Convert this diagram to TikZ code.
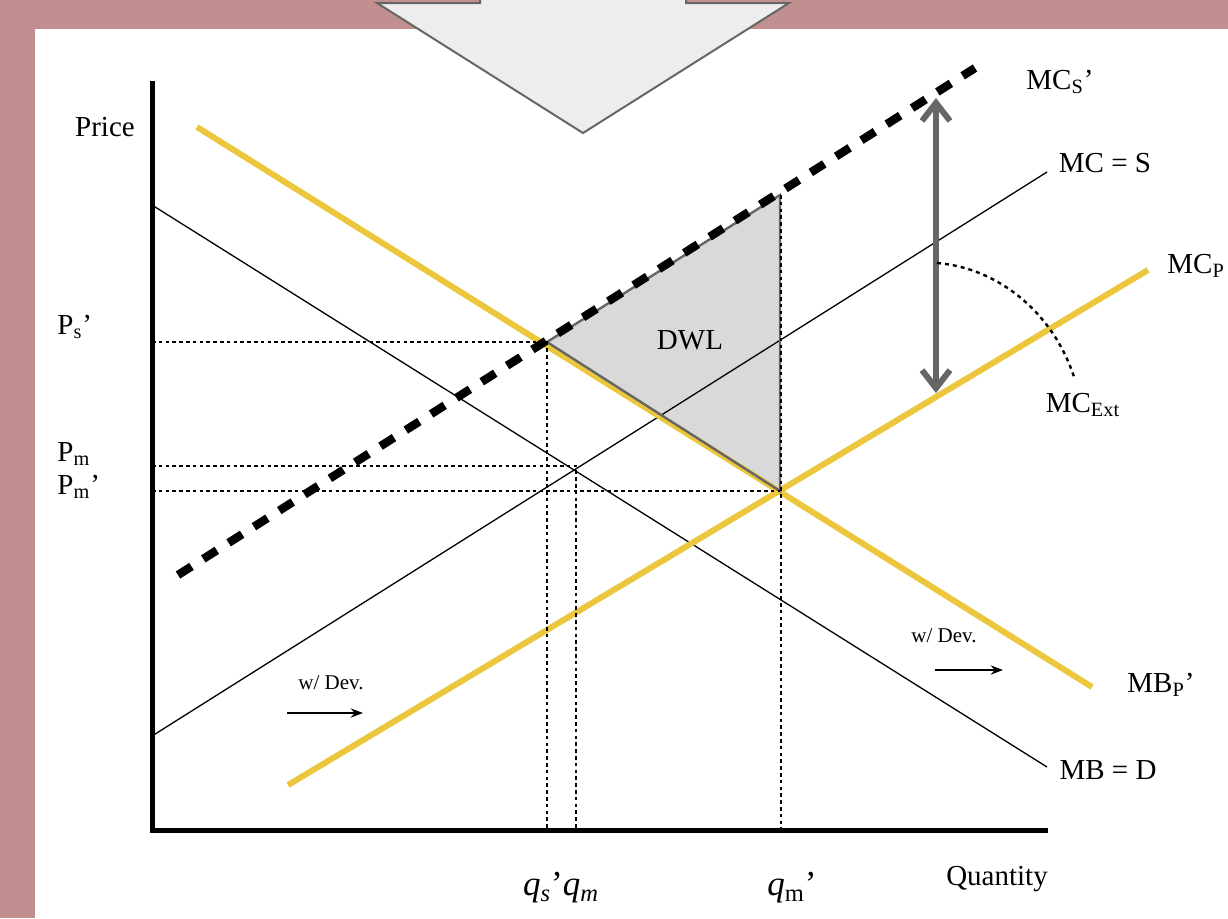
\documentclass[tikz,border=0pt]{standalone}
\usepackage{fontspec}
\setmainfont{Liberation Serif}
\usetikzlibrary{arrows.meta}

\definecolor{slidebg}{RGB}{194,143,144}
\definecolor{curveyellow}{RGB}{236,199,62}
\definecolor{arrowgray}{RGB}{102,102,102}
\definecolor{dwlgray}{RGB}{217,217,217}

\tikzset{
  lbl/.style={inner sep=0pt, font=\fontsize{14.5}{16}\selectfont},
  qlbl/.style={inner sep=0pt, font=\fontsize{17.5}{19}\selectfont},
  devlbl/.style={inner sep=0pt, font=\fontsize{10.5}{12}\selectfont},
  thincurve/.style={line width=0.65pt},
  yellowcurve/.style={line width=3pt, curveyellow},
  guide/.style={line width=1.15pt, dash pattern=on 1.8pt off 1.6pt},
}

\begin{document}
\begin{tikzpicture}[x=0.5pt, y=-0.5pt, >=Stealth]
    \useasboundingbox (0,0) rectangle (1228,918);
    % slide background
    \fill[slidebg] (0,0) rectangle (1228,918);
    \fill[white] (35,29) rectangle (1228,918);
    \draw[line width=1pt, arrowgray, fill=black!7] (480,-10) -- (480,3) -- (377,3) -- (583,133) -- (789,3) -- (686,3) -- (686,-10) -- cycle;

    % key points
    \coordinate (O) at (152,830);
    \coordinate (ps) at (547,342);
    \coordinate (pm) at (576,466);
    \coordinate (pmp) at (780,491);
    \coordinate (dwltop) at (780,195);

    % deadweight loss
    \fill[dwlgray] (ps) -- (dwltop) -- (pmp) -- cycle;
    % private curves
    \draw[thincurve] (152,205) -- (1047,767);
    \draw[thincurve] (152,736) -- (1047,172);
    % curves with development
    \draw[yellowcurve] (197,127) -- (1092,687);
    \draw[yellowcurve] (288,785) -- (1148,270);
    \draw[line width=1.2pt, arrowgray] (ps) -- (dwltop) -- (pmp) -- cycle;
    % social marginal cost
    \draw[line width=4.2pt, dash pattern=on 8pt off 7pt] (178,575) -- (975,68);

    % guides
    \draw[guide] (O |- ps) -| (ps |- O);
    \draw[guide] (O |- pm) -| (pm |- O);
    \draw[guide] (O |- pmp) -- (pmp);
    \draw[guide] ([xshift=0.6pt]dwltop) -- ([xshift=0.6pt]pmp |- O);

    % axes
    \draw[line width=2.5pt] (152,81) -- (O) -- (1048,830);

    % external cost
    \draw[arrowgray, line width=3pt, {Straight Barb[length=9pt,width=14pt]}-{Straight Barb[length=9pt,width=14pt]}] (936,98) -- (936,393);
    \draw[line width=1.2pt, dash pattern=on 2pt off 2pt] (937,263) .. controls (1000,268) and (1055,315) .. (1075,380);

    % labels
    \node[lbl] (price) at (105,127) {Price};
    \node[lbl] (qty) at (997,879) {Quantity};
    \node[lbl, anchor=west] (psl) at (57,327) {P\textsubscript{s}’};
    \node[lbl, anchor=west] (pml) at (57,454) {P\textsubscript{m}};
    \node[lbl, anchor=west] (pmpl) at (57,487) {P\textsubscript{m}’};
    \node[qlbl] (qsl) at (561,888) {\textit{q\textsubscript{s}}’\textit{q\textsubscript{m}}};
    \node[qlbl] (qmpl) at (792,888) {\textit{q}\textsubscript{m}’};
    \node[lbl] (dwl) at (690,340) {DWL};
    \node[lbl] (mcsp) at (1060,82) {MC\textsubscript{S}’};
    \node[lbl] (mcs) at (1105,163) {MC = S};
    \node[lbl, anchor=west] (mcp) at (1167,266) {MC\textsubscript{P}};
    \node[lbl] (mcext) at (1083,405) {MC\textsubscript{Ext}};
    \node[lbl] (mbp) at (1161,685) {MB\textsubscript{P}’};
    \node[lbl] (mbd) at (1108,770) {MB = D};

    % shift with development
    \node[devlbl] (devleft) at (331,683) {w/ Dev.};
    \coordinate (devlefta) at (287,713);
    \coordinate (devleftb) at (363,713);
    \draw[->, line width=0.7pt] (devlefta) -- (devleftb);
    \node[devlbl] (devright) at (944,636) {w/ Dev.};
    \coordinate (devrighta) at (935,670);
    \coordinate (devrightb) at (1003,670);
    \draw[->, line width=0.7pt] (devrighta) -- (devrightb);
\end{tikzpicture}
\end{document}
